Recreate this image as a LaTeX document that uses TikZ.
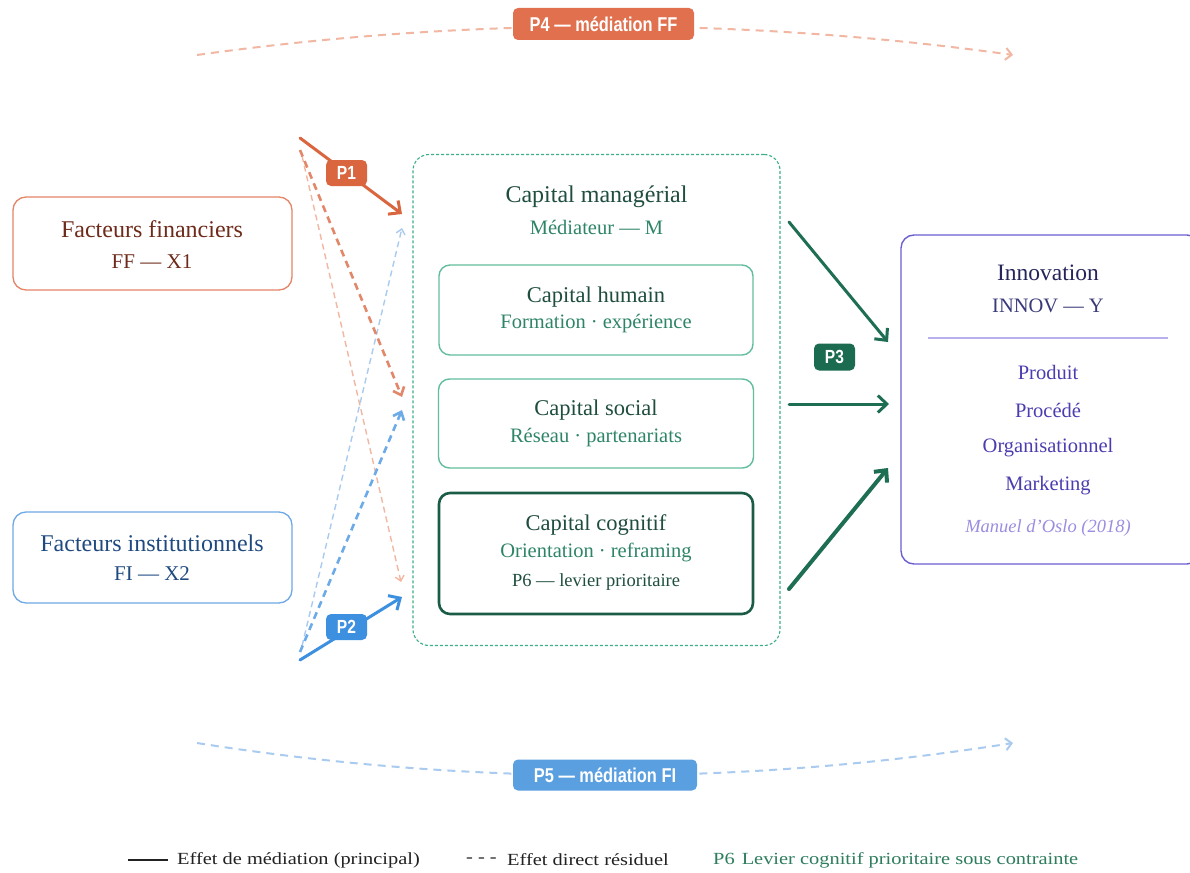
\documentclass[tikz,border=0pt]{standalone}
\usepackage{fontspec}
\setmainfont{Liberation Serif}
\newfontfamily\badgefont[FakeStretch=0.82]{Liberation Sans}
\newfontfamily\legendfont[FakeStretch=1.2]{Liberation Serif}
\usetikzlibrary{arrows.meta}
\definecolor{ffstroke}{HTML}{E58467}
\definecolor{fftext}{HTML}{6E2A1A}
\definecolor{fistroke}{HTML}{6FA8E6}
\definecolor{fitext}{HTML}{1F4A80}
\definecolor{orangeP}{HTML}{D9663F}
\definecolor{orangeBadge}{HTML}{E0704E}
\definecolor{orangeMid}{HTML}{E2876A}
\definecolor{orangeLight}{HTML}{F2B7A2}
\definecolor{blueP}{HTML}{3D8FE0}
\definecolor{blueBadge}{HTML}{5A9FE0}
\definecolor{blueMid}{HTML}{6CAAE8}
\definecolor{blueLight}{HTML}{AACBF0}
\definecolor{gOutline}{HTML}{3DB08A}
\definecolor{gInner}{HTML}{62BD9C}
\definecolor{gDark}{HTML}{1B5C47}
\definecolor{gTitle}{HTML}{1F4D40}
\definecolor{gSub}{HTML}{2E8566}
\definecolor{gArrow}{HTML}{1D6E52}
\definecolor{gBadge}{HTML}{1B6B50}
\definecolor{iStroke}{HTML}{6B5FD0}
\definecolor{iTitle}{HTML}{25255A}
\definecolor{iSub}{HTML}{3A3A7A}
\definecolor{iItem}{HTML}{4B3DB0}
\definecolor{iSep}{HTML}{B8B0EE}
\definecolor{iItal}{HTML}{9A8EE0}
\definecolor{legtext}{HTML}{222222}
\definecolor{legP6}{HTML}{2E7D5E}
\tikzset{
  fsz/.style={font=\fontsize{#1}{#1}\selectfont},
  box/.style={rounded corners=13pt, line width=1.3pt, inner sep=0pt},
  txt/.style={inner sep=0pt, anchor=center},
  badge/.style={rounded corners=5pt, inner sep=0pt, text=white,
    font=\badgefont\bfseries\fontsize{20}{20}\selectfont},
  bigarrow/.style={-{Straight Barb[length=9pt,width=17pt]}, line cap=round},
  thinarrow/.style={-{Straight Barb[length=5pt,width=9pt]}, line width=1.4pt, dash pattern=on 6pt off 4pt},
  midarrow/.style={-{Straight Barb[length=7pt,width=12pt]}, line width=2.6pt, dash pattern=on 7pt off 5pt},
  arcarrow/.style={-{Straight Barb[length=6pt,width=12pt]}, line width=2pt, dash pattern=on 8pt off 6pt}
}
\begin{document}
\begin{tikzpicture}[x=1pt,y=-1pt]
\useasboundingbox (0,0) rectangle (1190,872);
\fill[white] (0,0) rectangle (1190,872);

% ---- P4 / P5 arcs
\coordinate (p4s) at (197,55);
\coordinate (p4e) at (1013,55);
\coordinate (p5s) at (197,743);
\coordinate (p5e) at (1013,743);
\draw[arcarrow, orangeLight] (p4s) .. controls (469,17) and (741,17) .. (p4e);
\draw[arcarrow, blueLight] (p5s) .. controls (469,786) and (741,786) .. (p5e);
\node[badge, fill=orangeBadge, minimum width=181pt, minimum height=32pt] (p4) at (603.5,24) {P4 — médiation FF};
\node[badge, fill=blueBadge, minimum width=184pt, minimum height=31pt] (p5) at (605,775) {P5 — médiation FI};

% ---- Left factor boxes
\node[box, draw=ffstroke, minimum width=279pt, minimum height=93pt] (ff) at (152.5,243.5) {};
\node[txt, fsz=24, text=fftext] (fft) at (152,229) {Facteurs financiers};
\node[txt, fsz=21, text=fftext] (ffs) at (152,262) {FF — X1};
\node[box, draw=fistroke, minimum width=279pt, minimum height=91pt] (fi) at (152.5,557.5) {};
\node[txt, fsz=24, text=fitext] (fit) at (152,543) {Facteurs institutionnels};
\node[txt, fsz=21, text=fitext] (fis) at (152,574) {FI — X2};

% ---- Mediator
\node[rounded corners=16pt, draw=gOutline, line width=1.1pt, dash pattern=on 3pt off 2pt,
  minimum width=367pt, minimum height=491pt, inner sep=0pt] (med) at (596.5,400) {};
\node[txt, fsz=24, text=gTitle] (medt) at (596.5,197) {Capital managérial};
\node[txt, fsz=20.5, text=gSub] (meds) at (596.5,227) {Médiateur — M};

\node[box, rounded corners=11pt, draw=gInner, line width=1.4pt, minimum width=314pt, minimum height=90pt] (hum) at (596,310) {};
\node[txt, fsz=22.5, text=gTitle] (humt) at (596,297) {Capital humain};
\node[txt, fsz=20.5, text=gSub] (hums) at (596,324) {Formation · expérience};

\node[box, rounded corners=11pt, draw=gInner, line width=1.4pt, minimum width=315pt, minimum height=89pt] (soc) at (596,423.5) {};
\node[txt, fsz=22.5, text=gTitle] (soct) at (596,410) {Capital social};
\node[txt, fsz=20.5, text=gSub] (socs) at (596,438) {Réseau · partenariats};

\node[box, rounded corners=11pt, draw=gDark, line width=2.6pt, minimum width=314pt, minimum height=121pt] (cog) at (596,553.5) {};
\node[txt, fsz=22.5, text=gTitle] (cogt) at (596,525) {Capital cognitif};
\node[txt, fsz=20.5, text=gSub] (cogs) at (596,552) {Orientation · reframing};
\node[txt, fsz=18.5, text=gTitle] (cogp) at (596,582) {P6 — levier prioritaire};

% ---- Innovation
\draw[line width=1.4pt, draw=iStroke, rounded corners=13pt] (901,235) rectangle (1200,564);
\node[inner sep=0pt] (inno) at (1048,400) {};
\node[txt, fsz=23.5, text=iTitle] (innt) at (1048,273) {Innovation};
\node[txt, fsz=20.5, text=iSub] (inns) at (1048,306) {INNOV — Y};
\coordinate (sepL) at (928,338);
\coordinate (sepR) at (1168,338);
\draw[iSep, line width=1.2pt] (sepL) -- (sepR);
\node[txt, fsz=20.5, text=iItem] (i1) at (1048,372) {Produit};
\node[txt, fsz=20.5, text=iItem] (i2) at (1048,410) {Procédé};
\node[txt, fsz=20.5, text=iItem] (i3) at (1048,448) {Organisationnel};
\node[txt, fsz=20.5, text=iItem] (i4) at (1048,486) {Marketing};
\node[txt, text=iItal, font=\itshape\fontsize{18.5}{18.5}\selectfont] (i5) at (1048,528) {Manuel d'Oslo (2018)};

% ---- Left arrows
\coordinate (ffo1) at (300,138);
\coordinate (ffo2) at (300,150);
\coordinate (ffo3) at (302,156);
\coordinate (fio1) at (300,660);
\coordinate (fio2) at (300,652);
\coordinate (fio3) at (302,646);
\coordinate (tP1) at (402,214);
\coordinate (tOM) at (402,397);
\coordinate (tOL) at (401,582);
\coordinate (tBL) at (402,228);
\coordinate (tBM) at (402,410);
\coordinate (tP2) at (402,597);

\draw[thinarrow, orangeLight] (ffo3) -- (tOL);
\draw[thinarrow, blueLight] (fio3) -- (tBL);
\draw[midarrow, orangeMid] (ffo2) -- (tOM);
\draw[midarrow, blueMid] (fio2) -- (tBM);
\draw[bigarrow, line width=3pt, orangeP] (ffo1) -- (tP1);
\draw[bigarrow, line width=3pt, blueP] (fio1) -- (tP2);
\node[badge, fill=orangeP, minimum width=41pt, minimum height=26pt, font=\badgefont\bfseries\fontsize{19}{19}\selectfont] (p1) at (346.5,173) {P1};
\node[badge, fill=blueP, minimum width=41pt, minimum height=26pt, font=\badgefont\bfseries\fontsize{19}{19}\selectfont] (p2) at (346.5,627) {P2};

% ---- Right arrows
\coordinate (g1s) at (789,222);
\coordinate (g1e) at (888,342);
\coordinate (g2s) at (789,404);
\coordinate (g2e) at (889,404);
\coordinate (g3s) at (789,589);
\coordinate (g3e) at (888,468);
\draw[bigarrow, line width=3pt, gArrow] (g1s) -- (g1e);
\draw[bigarrow, line width=3pt, gArrow] (g2s) -- (g2e);
\draw[bigarrow, line width=4pt, gArrow] (g3s) -- (g3e);
\node[badge, fill=gBadge, minimum width=41pt, minimum height=27pt, font=\badgefont\bfseries\fontsize{19}{19}\selectfont] (p3) at (834.5,357) {P3};

% ---- Legend
\coordinate (l1a) at (128,860);
\coordinate (l1b) at (168,860);
\draw[legtext, line width=1.4pt] (l1a) -- (l1b);
\node[inner sep=0pt, anchor=west, text=legtext, font=\legendfont\fontsize{17}{17}\selectfont] (leg1) at (177,860) {Effet de médiation (principal)};
\node[inner sep=0pt, anchor=west, text=legtext, font=\legendfont\fontsize{17}{17}\selectfont] (leg2) at (466,860) {- - -};
\node[inner sep=0pt, anchor=west, text=legtext, font=\legendfont\fontsize{17}{17}\selectfont] (leg3) at (507,860) {Effet direct résiduel};
\node[inner sep=0pt, anchor=west, text=legP6, font=\legendfont\fontsize{17}{17}\selectfont] (leg4) at (713,860) {P6\hspace{7pt}Levier cognitif prioritaire sous contrainte};
\end{tikzpicture}
\end{document}
